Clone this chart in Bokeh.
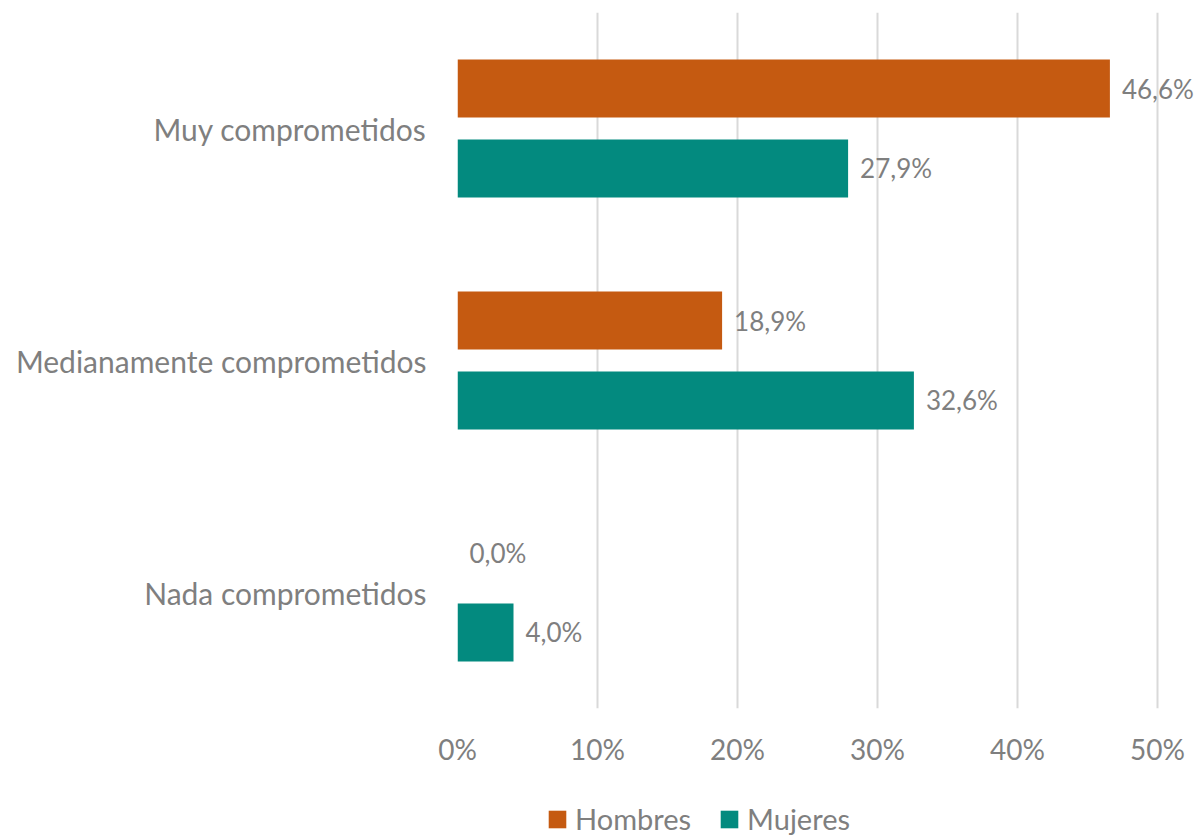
from bokeh.plotting import figure
from bokeh.layouts import column
from bokeh.models import (ColumnDataSource, FactorRange, Range1d, FixedTicker,
                          LabelSet, Legend, LegendItem)
from bokeh.core.properties import value
from bokeh.transform import dodge
from bokeh.embed import file_html
from bokeh.resources import INLINE

categories = ["Muy comprometidos", "Medianamente comprometidos", "Nada comprometidos"]
hombres = [46.6, 18.9, 0.0]
mujeres = [27.9, 32.6, 4.0]
series_names = ["Hombres", "Mujeres"]
x_ticks = [0, 10, 20, 30, 40, 50]
x_tick_labels = ["0%", "10%", "20%", "30%", "40%", "50%"]

ORANGE = "#C55A11"
TEAL = "#038A7F"
GRAY = "#7F7F7F"
FONT = "Lato"

def fmt(v):
    return f"{v:.1f}".replace(".", ",") + "%"

src = ColumnDataSource(dict(
    cat=categories,
    h=hombres,
    m=mujeres,
    hl=[fmt(v) for v in hombres],
    ml=[fmt(v) for v in mujeres],
))

W = 1196
H1 = 790
H2 = 48
left_border = 457
px_per_unit = 14.0
x_end = (W - left_border) / px_per_unit

p = figure(width=W, height=H1, output_backend="svg", toolbar_location=None,
           y_range=FactorRange(factors=list(reversed(categories))),
           x_range=Range1d(0, x_end),
           min_border_left=left_border, min_border_right=0,
           min_border_top=12, min_border_bottom=H1 - 708)
p.outline_line_color = None
p.background_fill_color = "white"
p.border_fill_color = "white"

off = 0.172
bh = 0.25
rh = p.hbar(y=dodge("cat", off, range=p.y_range), right="h", left=0, height=bh,
            source=src, fill_color=ORANGE, line_color=None)
rm = p.hbar(y=dodge("cat", -off, range=p.y_range), right="m", left=0, height=bh,
            source=src, fill_color=TEAL, line_color=None)

for col, lab, o in (("h", "hl", off), ("m", "ml", -off)):
    ls = LabelSet(x=col, y=dodge("cat", o, range=p.y_range), text=lab, source=src,
                  x_offset=12, text_baseline="middle", text_align="left",
                  text_color=GRAY, text_font=value(FONT), text_font_size="26px")
    p.add_layout(ls)

# axes
p.xaxis.ticker = FixedTicker(ticks=x_ticks)
p.xaxis.major_label_overrides = {t: l for t, l in zip(x_ticks, x_tick_labels)}
p.xaxis.axis_line_color = None
p.xaxis.major_tick_line_color = None
p.xaxis.minor_tick_line_color = None
p.xaxis.major_label_text_font = FONT
p.xaxis.major_label_text_font_size = "28px"
p.xaxis.major_label_text_color = GRAY
p.xaxis.major_label_standoff = 17

p.yaxis.axis_line_color = None
p.yaxis.major_tick_line_color = None
p.yaxis.minor_tick_line_color = None
p.yaxis.major_label_text_font = FONT
p.yaxis.major_label_text_font_size = "30px"
p.yaxis.major_label_text_color = GRAY
p.yaxis.major_label_standoff = 25

p.ygrid.grid_line_color = None
p.xgrid.grid_line_color = "#D9D9D9"
p.xgrid.grid_line_width = 2

# legend strip (its frame is aligned with the main frame by the column layout)
lf = figure(width=W, height=H2, output_backend="svg", toolbar_location=None,
            x_range=Range1d(0, 1), y_range=Range1d(0, 1),
            min_border=0, min_border_left=0, min_border_right=0,
            min_border_top=0, min_border_bottom=0)
lf.axis.visible = False
lf.grid.visible = False
lf.outline_line_color = None
lh = lf.hbar(y="h", left=0, right="h", height=0.5, source=src,
             fill_color=ORANGE, line_color=None, visible=False)
lm = lf.hbar(y="m", left=0, right="m", height=0.5, source=src,
             fill_color=TEAL, line_color=None, visible=False)
legend = Legend(items=[LegendItem(label=series_names[0], renderers=[lh]),
                       LegendItem(label=series_names[1], renderers=[lm])],
                orientation="horizontal", location=(546 - left_border, 2),
                glyph_width=22, glyph_height=22, label_standoff=7, spacing=27,
                padding=0, margin=0, border_line_color=None,
                background_fill_alpha=0, inactive_fill_alpha=0,
                label_text_font=FONT, label_text_font_size="29px",
                label_text_color=GRAY)
lf.add_layout(legend, "center")

layout = column(p, lf, spacing=0)
open("out.html", "w").write(file_html(layout, INLINE))
